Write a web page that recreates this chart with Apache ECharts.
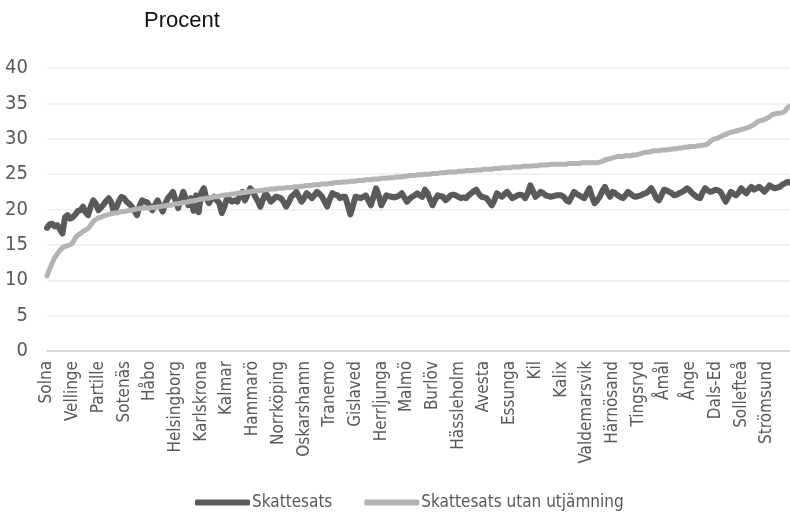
<!DOCTYPE html>
<html>
<head>
<meta charset="utf-8">
<script src="https://cdn.jsdelivr.net/npm/echarts@6/dist/echarts.min.js"></script>
<style>
html,body{margin:0;padding:0;background:#fff;}
#chart{width:790px;height:514px;}
</style>
</head>
<body>
<div id="chart"></div>
<script>
// Tick labels shown on the x axis (every 10th municipality, starting at index 0)
const tickLabels = ["Solna","Vellinge","Partille","Sotenäs","Håbo","Helsingborg","Karlskrona","Kalmar","Hammarö","Norrköping","Oskarshamn","Tranemo","Gislaved","Herrljunga","Malmö","Burlöv","Hässleholm","Avesta","Essunga","Kil","Kalix","Valdemarsvik","Härnösand","Tingsryd","Åmål","Ånge","Dals-Ed","Sollefteå","Strömsund"];
const municipalityCount = 290;

const seriesNames = ["Skattesats", "Skattesats utan utjämning"];

// Skattesats (procent)
const skattesats = [
17.4,17.9,18.0,17.6,17.8,17.2,16.6,18.9,19.2,18.7,
18.9,19.3,19.8,19.9,20.4,19.6,19.2,20.4,21.3,20.8,
19.9,20.3,20.7,21.2,21.6,21.0,19.7,20.3,21.2,21.8,
21.6,21.1,20.8,20.4,19.8,19.2,20.5,21.3,21.1,21.0,
20.4,19.9,20.6,21.3,20.5,19.7,20.8,21.6,22.0,22.5,
21.3,20.2,21.4,22.5,21.5,20.6,21.6,19.8,22.0,19.6,
22.4,23.0,21.6,20.9,21.5,21.8,21.3,20.9,19.5,20.4,
21.6,21.4,21.1,21.3,21.1,21.9,22.5,21.3,22.1,23.0,
22.6,21.8,21.2,20.4,21.4,22.3,21.8,21.1,21.4,21.8,
21.7,21.6,21.1,20.4,21.0,21.8,22.1,22.5,21.8,21.1,
21.6,22.3,22.0,21.6,22.0,22.5,22.2,21.8,21.1,20.4,
21.5,22.3,22.1,22.0,21.6,21.8,21.8,20.6,19.3,20.5,
21.8,21.7,21.6,21.8,22.0,21.3,20.6,21.8,23.0,22.0,
20.6,21.3,22.0,21.9,21.8,21.7,21.8,22.0,22.3,21.7,
21.1,21.5,21.8,22.0,22.3,22.0,21.8,22.8,22.3,21.4,
20.6,21.4,22.0,21.9,21.8,21.3,21.6,22.0,22.1,22.0,
21.8,21.6,21.7,21.6,22.0,22.3,22.6,22.8,22.2,21.8,
21.7,21.6,21.1,20.6,21.3,22.3,22.0,21.8,22.2,22.5,
22.0,21.6,21.8,22.0,22.1,22.0,21.6,22.3,23.4,22.6,
21.8,22.1,22.5,22.3,22.0,21.9,21.8,21.9,22.0,22.0,
22.0,21.8,21.3,21.1,21.8,22.5,22.2,22.0,21.8,21.6,
22.3,23.0,21.8,20.9,21.3,21.8,22.6,23.2,22.4,21.8,
22.5,22.3,22.0,21.8,21.6,22.0,22.5,22.2,21.9,21.8,
21.9,22.0,22.2,22.3,22.6,23.0,22.4,21.6,21.3,22.0,
22.8,22.7,22.5,22.3,22.0,22.1,22.3,22.5,22.7,23.0,
22.7,22.3,22.0,21.7,21.6,22.4,23.0,22.7,22.5,22.6,
22.8,22.7,22.5,21.8,21.1,21.8,22.5,22.2,22.0,22.4,
23.0,22.6,22.3,22.8,23.2,22.8,23.0,23.2,22.9,22.5,
22.9,23.4,23.2,23.0,23.1,23.2,23.5,23.7,23.9,23.8
];

// Skattesats utan utjämning (procent)
const utanUtjamning = [
10.6,11.6,12.4,13.2,13.7,14.2,14.6,14.8,14.9,15.0,
15.3,16.0,16.4,16.6,16.9,17.1,17.3,17.8,18.3,18.6,
18.8,18.9,19.1,19.2,19.3,19.4,19.5,19.5,19.6,19.7,
19.7,19.8,19.9,19.9,20.0,20.1,20.1,20.2,20.2,20.2,
20.2,20.3,20.3,20.4,20.4,20.5,20.5,20.6,20.6,20.7,
20.8,20.8,20.9,21.0,21.0,21.1,21.2,21.2,21.3,21.4,
21.5,21.5,21.6,21.6,21.7,21.8,21.8,21.9,22.0,22.0,
22.1,22.1,22.2,22.2,22.3,22.3,22.4,22.4,22.5,22.5,
22.6,22.6,22.6,22.7,22.7,22.8,22.8,22.9,22.9,22.9,
23.0,23.0,23.0,23.1,23.1,23.1,23.2,23.2,23.2,23.3,
23.3,23.4,23.4,23.4,23.5,23.5,23.5,23.6,23.6,23.6,
23.7,23.7,23.8,23.8,23.8,23.9,23.9,23.9,24.0,24.0,
24.0,24.1,24.1,24.1,24.2,24.2,24.2,24.3,24.3,24.3,
24.4,24.4,24.4,24.5,24.5,24.5,24.6,24.6,24.6,24.7,
24.7,24.8,24.8,24.8,24.9,24.9,24.9,25.0,25.0,25.0,
25.1,25.1,25.1,25.2,25.2,25.2,25.3,25.3,25.3,25.3,
25.4,25.4,25.4,25.5,25.5,25.5,25.5,25.6,25.6,25.6,
25.7,25.7,25.7,25.7,25.8,25.8,25.8,25.9,25.9,25.9,
25.9,26.0,26.0,26.0,26.0,26.1,26.1,26.1,26.1,26.2,
26.2,26.2,26.3,26.3,26.3,26.3,26.4,26.4,26.4,26.4,
26.4,26.4,26.4,26.5,26.5,26.5,26.5,26.5,26.6,26.6,
26.6,26.6,26.6,26.6,26.6,26.7,26.8,27.0,27.1,27.2,
27.3,27.4,27.5,27.5,27.5,27.6,27.6,27.6,27.7,27.7,
27.8,27.9,28.0,28.1,28.1,28.2,28.3,28.3,28.3,28.4,
28.4,28.4,28.5,28.5,28.6,28.6,28.7,28.7,28.8,28.8,
28.9,28.9,28.9,29.0,29.0,29.1,29.1,29.3,29.6,29.9,
30.0,30.1,30.3,30.5,30.6,30.8,30.9,31.0,31.1,31.2,
31.3,31.4,31.5,31.6,31.8,32.0,32.3,32.5,32.6,32.7,
32.9,33.1,33.4,33.5,33.6,33.6,33.7,33.9,34.4,34.6
];

const yTicks = { min: 0, max: 40, interval: 5 };

// Category axis: named ticks every 10th position, other municipalities unnamed
const categories = [];
for (let i = 0; i < municipalityCount; i++) {
  categories.push(i % 10 === 0 ? tickLabels[i / 10] : ' '.repeat(1 + (i % 10)) + String(i));
}

const narrow = "'Liberation Sans Narrow', 'DejaVu Sans Condensed', 'Arial Narrow', sans-serif";

const chart = echarts.init(document.getElementById('chart'), null, { renderer: 'canvas' });
chart.setOption({
  animation: false,
  backgroundColor: '#ffffff',
  title: {
    text: 'Procent',
    left: 139,
    top: 5,
    textStyle: { fontFamily: "'Liberation Sans', Arial, sans-serif", fontSize: 22, fontWeight: 'normal', color: '#111111' }
  },
  legend: {
    top: 489,
    left: 190,
    icon: 'roundRect',
    itemWidth: 55,
    itemHeight: 6,
    itemGap: 32,
    textStyle: { fontFamily: narrow, fontSize: 17, color: '#595959', padding: [0, 0, 0, -3] },
    data: seriesNames
  },
  grid: { left: 47, right: 0, top: 68, bottom: 163, containLabel: false },
  xAxis: {
    type: 'category',
    data: categories,
    boundaryGap: false,
    axisLine: { show: true, lineStyle: { color: '#d9d9d9', width: 2 } },
    axisTick: { show: false },
    axisLabel: {
      interval: 9,
      rotate: 90,
      margin: 10,
      fontFamily: narrow,
      fontSize: 17,
      color: '#595959',
      formatter: function (v) { return v.trim() === v ? v : ''; }
    },
    splitLine: { show: false }
  },
  yAxis: {
    type: 'value',
    min: yTicks.min,
    max: yTicks.max,
    interval: yTicks.interval,
    axisLine: { show: false },
    axisTick: { show: false },
    axisLabel: { margin: 19, fontFamily: narrow, fontSize: 20, color: '#595959' },
    splitLine: { lineStyle: { color: '#ececec', width: 1.5 } }
  },
  series: [
    {
      name: seriesNames[0],
      type: 'line',
      data: skattesats,
      showSymbol: false,
      smooth: false,
      color: '#5a5a5a',
      lineStyle: { color: '#5a5a5a', width: 6, cap: 'round', join: 'round' }
    },
    {
      name: seriesNames[1],
      type: 'line',
      data: utanUtjamning,
      showSymbol: false,
      smooth: false,
      color: '#b4b4b4',
      lineStyle: { color: '#b4b4b4', width: 5, cap: 'round', join: 'round' }
    }
  ]
});
</script>
</body>
</html>
